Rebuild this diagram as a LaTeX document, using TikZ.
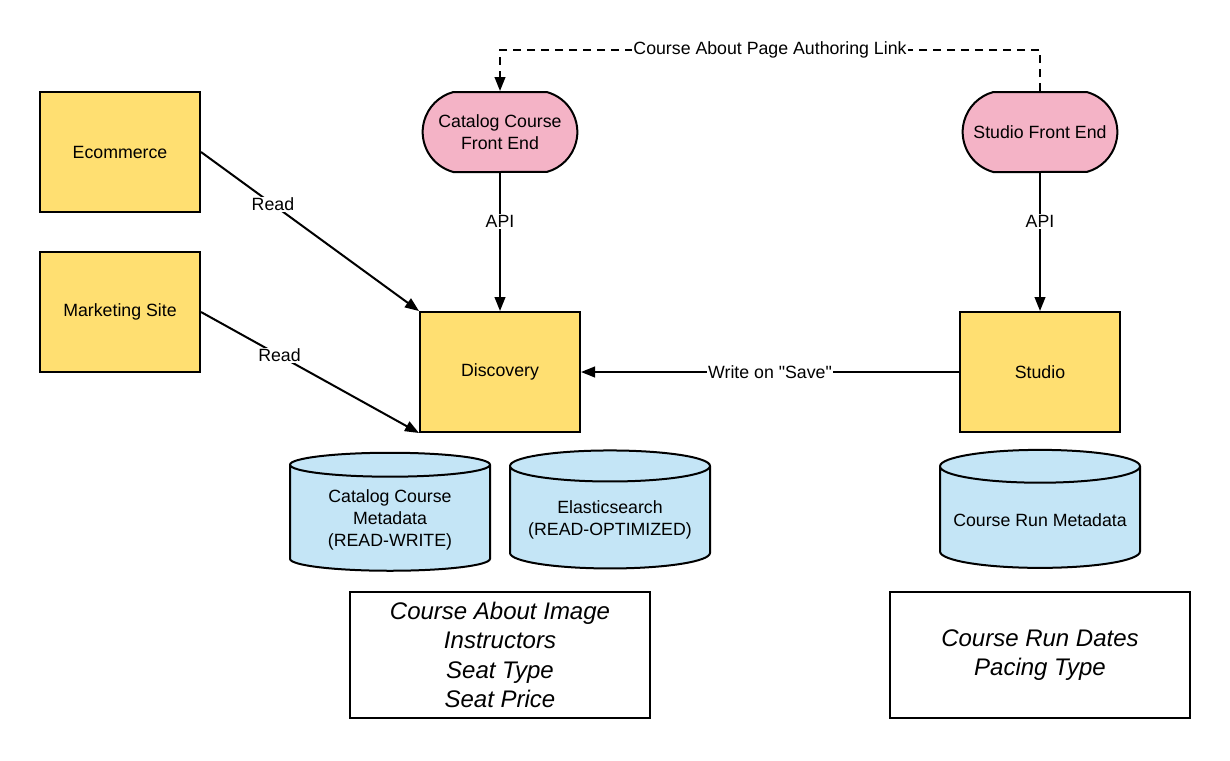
\documentclass[tikz,border=0pt]{standalone}
\usepackage{fontspec}
\setmainfont{Liberation Sans}
\usetikzlibrary{shapes.geometric,shapes.misc,arrows.meta}
\definecolor{sysyellow}{HTML}{FFDF71}
\definecolor{fepink}{HTML}{F4B3C6}
\definecolor{dbblue}{HTML}{C4E5F6}
\begin{document}
\begin{tikzpicture}[x=0.75pt, y=-0.75pt, line width=1.5pt,
    >={Triangle[length=10.5pt,width=8pt]},
    every node/.style={font=\fontsize{13.3}{16.3}\selectfont, align=center},
    sysbox/.style={draw, fill=sysyellow, minimum width=120pt, minimum height=90pt},
    frontend/.style={draw, fill=fepink, rounded rectangle, rounded rectangle arc length=150,
      minimum width=120pt, minimum height=60pt, inner sep=2pt},
    store/.style={draw, fill=dbblue, cylinder, shape border rotate=90, aspect=0.18,
      minimum width=150pt, minimum height=88.5pt},
    notes/.style={draw, minimum width=225pt, minimum height=94.5pt,
      font=\fontsize{18}{22}\selectfont\itshape},
    lbl/.style={fill=white, inner sep=1pt}]

  \useasboundingbox (0, 0) rectangle (1230, 760);

  % systems
  \node[sysbox] (eco) at (120, 152) {Ecommerce};
  \node[sysbox] (mkt) at (120, 312) {Marketing Site};
  \node[sysbox] (disc) at (500, 372) {Discovery};
  \node[sysbox] (studio) at (1040, 372) {Studio};

  % front ends
  \node[frontend] (ccfe) at (500, 132) {Catalog Course\\Front End};
  \node[frontend] (sfe) at (1040, 132) {Studio Front End};

  % data stores
  \node[store] (ccmeta) at (390, 520) {Catalog Course\\Metadata\\(READ-WRITE)};
  \node[store] (es) at (610, 520) {Elasticsearch\\(READ-OPTIMIZED)};
  \node[store] (crmeta) at (1040, 520) {Course Run Metadata};

  % fields
  \node[notes] (ccfields) at (500, 655) {Course About Image\\Instructors\\Seat Type\\Seat Price};
  \node[notes] (crfields) at (1040, 655) {Course Run Dates\\Pacing Type};

  % connectors
  \draw[->] (eco.east) -- (disc.north west) node[lbl, pos=0.33] {Read};
  \draw[->] (mkt.east) -- (disc.south west) node[lbl, pos=0.36] {Read};
  \draw[->] (ccfe.south) -- (disc.north) node[lbl, pos=0.35] {API};
  \draw[->] (sfe.south) -- (studio.north) node[lbl, pos=0.35] {API};
  \draw[->] (studio.west) -- (disc.east) node[lbl, midway] {Write on \textquotedbl Save\textquotedbl};
  \coordinate (linkr) at (1040, 50);
  \coordinate (linkl) at (500, 50);
  \draw[->, dash pattern=on 6pt off 4.5pt] (sfe.north) -- (linkr) -- (linkl)
    node[lbl, midway] {Course About Page Authoring Link} -- (ccfe.north);

\end{tikzpicture}
\end{document}
